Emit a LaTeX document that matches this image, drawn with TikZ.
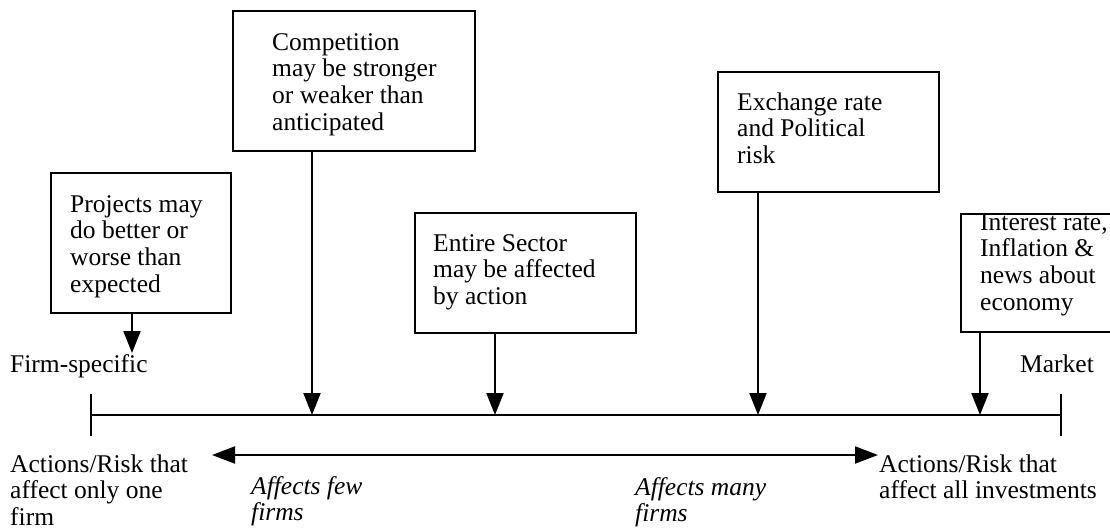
\documentclass[tikz,border=0pt]{standalone}
\usepackage{fontspec}
\setmainfont{Liberation Serif}
\usetikzlibrary{arrows.meta}
\tikzset{
  box/.style={draw, line width=2.2pt, inner sep=0pt, anchor=north west},
  txt/.style={inner sep=0pt, anchor=north west, align=left,
              font=\fontsize{25.5}{26.7}\selectfont},
  lbl/.style={inner sep=0pt, anchor=base west, align=left,
              font=\fontsize{25.5}{26.7}\selectfont},
  ital/.style={txt, font=\fontsize{25.5}{26.7}\selectfont\itshape},
  ln/.style={line width=2pt},
  arr/.style={line width=2pt, -{Triangle[length=22pt,width=17pt]}},
  darr/.style={line width=2pt, {Triangle[length=23pt,width=17pt]}-{Triangle[length=23pt,width=17pt]}}
}
\begin{document}
\begin{tikzpicture}[x=1pt,y=-1pt]
\useasboundingbox (0,0) rectangle (1110,529);
% boxes
\node[box, minimum width=180pt, minimum height=140pt] (b1) at (50,172) {};
\node[box, minimum width=242pt, minimum height=140pt] (b2) at (232,10) {};
\node[box, minimum width=221pt, minimum height=120pt] (b3) at (414,212) {};
\node[box, minimum width=221pt, minimum height=120pt] (b4) at (717,71) {};
\node[box, minimum width=152pt, minimum height=118pt] (b5) at (960,213) {};
% box texts
\node[txt] (t1) at (70,193.3) {\strut Projects may\\do better or\\worse than\\expected};
\node[txt] (t2) at (272,31.3) {\strut Competition\\may be stronger\\or weaker than\\anticipated};
\node[txt] (t3) at (433,232.3) {\strut Entire Sector\\may be affected\\by action};
\node[txt] (t4) at (737,91.3) {\strut Exchange rate\\and Political\\risk};
\node[txt] (t5) at (980,211.3) {\strut Interest rate,\\Inflation \&\\news about\\economy};
% labels
\node[lbl] (fs) at (10,372) {Firm-specific};
\node[lbl] (mk) at (1020,372) {Market};
\node[txt] (al) at (10,453.3) {\strut Actions/Risk that\\affect only one\\firm};
\node[txt] (ar) at (879,453.3) {\strut Actions/Risk that\\affect all investments};
\node[ital] (af) at (251,475.3) {\strut Affects few\\firms};
\node[ital] (am) at (635,476.3) {\strut Affects many\\firms};
% axis
\coordinate (L) at (91,415);
\coordinate (R) at (1061,415);
\draw[ln] (L) -- (R);
\draw[ln] (91,394) -- (91,436);
\draw[ln] (1061,394) -- (1061,436);
% arrow targets
\coordinate (p1) at (132,353);
\coordinate (p2) at (312,415);
\coordinate (p3) at (495,415);
\coordinate (p4) at (758,415);
\coordinate (p5) at (980,415);
\draw[arr] (b1.south -| p1) -- (p1);
\draw[arr] (b2.south -| p2) -- (p2);
\draw[arr] (b3.south -| p3) -- (p3);
\draw[arr] (b4.south -| p4) -- (p4);
\draw[arr] (b5.south -| p5) -- (p5);
% double arrow
\coordinate (dl) at (212,455);
\coordinate (dr) at (878,455);
\draw[darr] (dl) -- (dr);
\end{tikzpicture}
\end{document}
